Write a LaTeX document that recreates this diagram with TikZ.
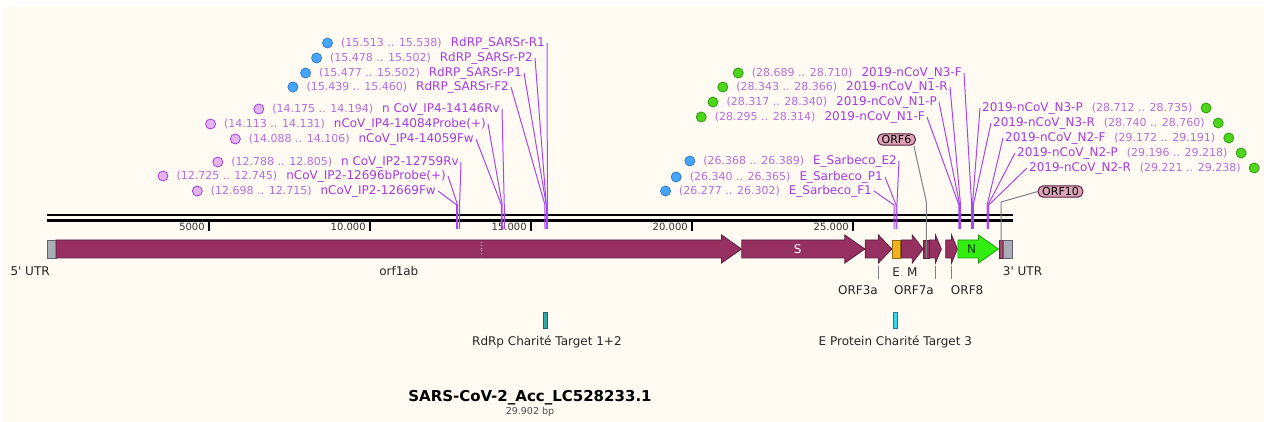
\documentclass[tikz,border=0pt]{standalone}
\usepackage{fontspec}
\setmainfont{DejaVu Sans}
\usetikzlibrary{positioning}
\definecolor{cream}{HTML}{FFFBF3}
\definecolor{genecol}{HTML}{963060}
\definecolor{genedraw}{HTML}{5C1F3D}
\definecolor{utrcol}{HTML}{A8AEB6}
\definecolor{utrdraw}{HTML}{5E646C}
\definecolor{ecol}{HTML}{F2B21E}
\definecolor{ncol}{HTML}{33EE11}
\definecolor{ndraw}{HTML}{229A10}
\definecolor{namecol}{HTML}{A43CE0}
\definecolor{rangecol}{HTML}{B46EE0}
\definecolor{leadcol}{HTML}{A646F0}
\definecolor{bluedotcol}{HTML}{45A5FF}
\definecolor{greendotcol}{HTML}{4CD61C}
\definecolor{lilacdotcol}{HTML}{E2B4F2}
\definecolor{calloutcol}{HTML}{DDA4B8}
\definecolor{tealcol}{HTML}{2FA8A8}
\definecolor{cyancol}{HTML}{30D8E8}
\newcommand{\rng}[1]{{\fontsize{11}{13}\selectfont\textcolor{rangecol}{#1}}}

\begin{document}
\begin{tikzpicture}[x=1pt, y=-1pt,
	probe/.style={text=namecol, inner sep=2pt, font=\fontsize{12}{14}\selectfont},
	pdot/.style={circle, minimum size=10pt, inner sep=0pt, line width=0.8pt},
	bluedot/.style={pdot, fill=bluedotcol, draw=bluedotcol!75!black},
	greendot/.style={pdot, fill=greendotcol, draw=greendotcol!70!black},
	lilacdot/.style={pdot, fill=lilacdotcol, draw=namecol},
	lead/.style={leadcol, line width=1pt},
	gene/.style={fill=genecol, draw=genedraw, line width=0.8pt},
	utr/.style={fill=utrcol, draw=utrdraw, line width=0.8pt},
	genelabel/.style={font=\fontsize{12}{14}\selectfont, text=black!85, inner sep=1pt},
	ticklabel/.style={font=\fontsize{10}{12}\selectfont, text=black!80, anchor=east, inner sep=1pt},
	callout/.style={rounded corners=5pt, fill=calloutcol, draw=genedraw, line width=1pt, inner xsep=4pt, inner ysep=1.5pt, font=\fontsize{11}{13}\selectfont},
	greylead/.style={gray, line width=1pt},
	target/.style={minimum width=4pt, minimum height=16pt, inner sep=0pt, line width=0.8pt}]
					\useasboundingbox (0,0) rectangle (1264,422);
					\fill[white] (0,0) rectangle (1264,422);
					\fill[cream] (3,7) rectangle (1264,422);
					% sequence axis
					\draw[line width=2.6pt] (47,215) -- (1013,215);
					\draw[line width=2.6pt] (47,220.5) -- (1013,220.5);
					% genome in kb
					\begin{scope}[x=32.2pt, xshift=47.5pt]
						\foreach \k/\t in {5/5000, 10/10.000, 15/15.000, 20/20.000, 25/25.000} {
							\draw[line width=2pt] (\k,222) -- (\k,231);
							\node[ticklabel] (tick\k) at (\k-0.08,227) {\t};
						}
						\draw[utr] (0,240) rectangle (0.265,258);
						\draw[gene] (0.266,240) -- (20.934,240) -- (20.934,235) -- (21.555,249) -- (20.934,263) -- (20.934,258) -- (0.266,258) -- cycle;
						\draw[white, dotted, line width=0.8pt] (13.468,242) -- (13.468,256);
						\draw[gene] (21.563,240) -- (24.763,240) -- (24.763,235) -- (25.384,249) -- (24.763,263) -- (24.763,258) -- (21.563,258) -- cycle;
						\draw[gene] (25.393,240) -- (25.807,240) -- (25.807,235) -- (26.220,249) -- (25.807,263) -- (25.807,258) -- (25.393,258) -- cycle;
						\draw[fill=ecol, draw=ecol!60!black, line width=0.8pt] (26.245,240) rectangle (26.472,258);
						\draw[gene] (26.523,240) -- (26.857,240) -- (26.857,235) -- (27.191,249) -- (26.857,263) -- (26.857,258) -- (26.523,258) -- cycle;
						\draw[gene] (27.202,240) rectangle (27.387,258);
						\draw[gene] (27.394,240) -- (27.577,240) -- (27.577,235) -- (27.759,249) -- (27.577,263) -- (27.577,258) -- (27.394,258) -- cycle;
						\draw[gene] (27.894,240) -- (28.077,240) -- (28.077,235) -- (28.259,249) -- (28.077,263) -- (28.077,258) -- (27.894,258) -- cycle;
						\draw[fill=ncol, draw=ndraw, line width=0.8pt] (28.274,240) -- (28.912,240) -- (28.912,235) -- (29.533,249) -- (28.912,263) -- (28.912,258) -- (28.274,258) -- cycle;
						\draw[gene] (29.558,240) rectangle (29.674,258);
						\draw[utr] (29.675,240) rectangle (29.95,258);
						% gene names
						\node[genelabel] (utrfive) at (-0.54,271) {5\textquotesingle{} UTR};
						\node[genelabel] (orfoneab) at (10.91,271) {orf1ab};
						\node[genelabel, text=white] (spike) at (23.3,249) {S};
						\node[genelabel, text=black!75!green] (ncap) at (28.7,249) {N};
						\node[genelabel] (utrthree) at (30.28,271) {3\textquotesingle{} UTR};
						\node[genelabel] (envelope) at (26.3585,272) {E};
						\node[genelabel] (membrane) at (26.857,272) {M};
						\node[genelabel] (orfthreea) at (25.17,290) {ORF3a};
						\node[genelabel] (orfsevena) at (26.91,290) {ORF7a};
						\node[genelabel] (orfeight) at (28.56,290) {ORF8};
						\draw[gray, line width=0.8pt] (25.807,266) -- (25.807,279);
						\draw[gray, line width=0.8pt] (27.577,266) -- (27.577,279);
						\draw[gray, line width=0.8pt] (28.077,266) -- (28.077,279);
						% Charite targets
						\node[target, fill=tealcol, draw=tealcol!60!black] (rdrptarget) at (15.45,320) {};
						\node[genelabel] (rdrptargetlab) at (15.51,342) {RdRp Charité Target 1+2};
						\node[target, fill=cyancol, draw=cyancol!60!black] (etarget) at (26.33,320) {};
						\node[genelabel] (etargetlab) at (26.33,342) {E Protein Charité Target 3};
						\coordinate (orfsixbend) at (27.2945,202);
						\coordinate (orfsixend) at (27.2945,258);
						\coordinate (orftenbend) at (29.616,202);
						\coordinate (orftenend) at (29.616,258);
					\end{scope}
					% small ORF callouts
					\node[callout] (orfsix) at (896.5,139.5) {ORF6};
					\node[callout] (orften) at (1060.5,191.5) {ORF10};
					\draw[greylead] ([xshift=-2pt]orfsix.south east) -- (orfsixbend) -- (orfsixend);
					\draw[greylead] (orften.west) -- (orftenbend) -- (orftenend);
					% primers and probes
					\foreach \n/\xe/\ye/\pos/\rg/\nm in {
						rRone/547/43/15.525/{(15.513 .. 15.538)}/{RdRP\_SARSr-R1},
						rPtwo/535/58/15.490/{(15.478 .. 15.502)}/{RdRP\_SARSr-P2},
						rPone/524/73/15.490/{(15.477 .. 15.502)}/{RdRP\_SARSr-P1},
						rFtwo/511/87/15.450/{(15.439 .. 15.460)}/{RdRP\_SARSr-F2},
						eEtwo/899/161/26.379/{(26.368 .. 26.389)}/{E\_Sarbeco\_E2},
						ePone/885/177/26.353/{(26.340 .. 26.365)}/{E\_Sarbeco\_P1},
						eFone/874/191/26.290/{(26.277 .. 26.302)}/{E\_Sarbeco\_F1}} {
						\node[probe, anchor=east] (\n) at (\xe,\ye) {\rng{\rg}\hspace{9pt}\nm};
						\node[bluedot, left=6pt of \n] (\n-dot) {};
						\coordinate (\n-f) at ({47.5+32.2*\pos},205);
						\draw[lead] (\n.east) -- (\n-f) -- ++(0,24);
					}
					\foreach \n/\xe/\ye/\pos/\rg/\nm in {
						ipfourR/502/109/14.185/{(14.175 .. 14.194)}/{n CoV\_IP4-14146Rv},
						ipfourP/488/124/14.122/{(14.113 .. 14.131)}/{nCoV\_IP4-14084Probe(+)},
						ipfourF/476/139/14.097/{(14.088 .. 14.106)}/{nCoV\_IP4-14059Fw},
						iptwoR/461/162/12.797/{(12.788 .. 12.805)}/{n CoV\_IP2-12759Rv},
						iptwoP/448/176/12.735/{(12.725 .. 12.745)}/{nCoV\_IP2-12696bProbe(+)},
						iptwoF/438/191/12.707/{(12.698 .. 12.715)}/{nCoV\_IP2-12669Fw}} {
						\node[probe, anchor=east] (\n) at (\xe,\ye) {\rng{\rg}\hspace{9pt}\nm};
						\node[lilacdot, left=6pt of \n] (\n-dot) {};
						\coordinate (\n-f) at ({47.5+32.2*\pos},205);
						\draw[lead] (\n.east) -- (\n-f) -- ++(0,24);
					}
					\foreach \n/\xe/\ye/\pos/\rg/\nm in {
						nthreeF/964/73/28.700/{(28.689 .. 28.710)}/{2019-nCoV\_N3-F},
						noneR/950/87/28.355/{(28.343 .. 28.366)}/{2019-nCoV\_N1-R},
						noneP/939/102/28.329/{(28.317 .. 28.340)}/{2019-nCoV\_N1-P},
						noneF/927/117/28.305/{(28.295 .. 28.314)}/{2019-nCoV\_N1-F}} {
						\node[probe, anchor=east] (\n) at (\xe,\ye) {\rng{\rg}\hspace{9pt}\nm};
						\node[greendot, left=6pt of \n] (\n-dot) {};
						\coordinate (\n-f) at ({47.5+32.2*\pos},205);
						\draw[lead] (\n.east) -- (\n-f) -- ++(0,24);
					}
					\foreach \n/\xw/\ye/\pos/\rg/\nm in {
						nthreeP/980/108/28.724/{(28.712 .. 28.735)}/{2019-nCoV\_N3-P},
						nthreeR/991/123/28.750/{(28.740 .. 28.760)}/{2019-nCoV\_N3-R},
						ntwoF/1003/138/29.182/{(29.172 .. 29.191)}/{2019-nCoV\_N2-F},
						ntwoP/1015/153/29.207/{(29.196 .. 29.218)}/{2019-nCoV\_N2-P},
						ntwoR/1027/168/29.230/{(29.221 .. 29.238)}/{2019-nCoV\_N2-R}} {
						\node[probe, anchor=west] (\n) at (\xw,\ye) {\nm\hspace{9pt}\rng{\rg}};
						\node[greendot, right=6pt of \n] (\n-dot) {};
						\coordinate (\n-f) at ({47.5+32.2*\pos},205);
						\draw[lead] (\n.west) -- (\n-f) -- ++(0,24);
					}
					% title
					\node[font=\bfseries\fontsize{15}{17}\selectfont] (title) at (530,398) {SARS-CoV-2\_Acc\_LC528233.1};
					\node[font=\fontsize{9.5}{11}\selectfont, text=black!70] (length) at (530,411.5) {29.902 bp};
				\end{tikzpicture}
\end{document}
